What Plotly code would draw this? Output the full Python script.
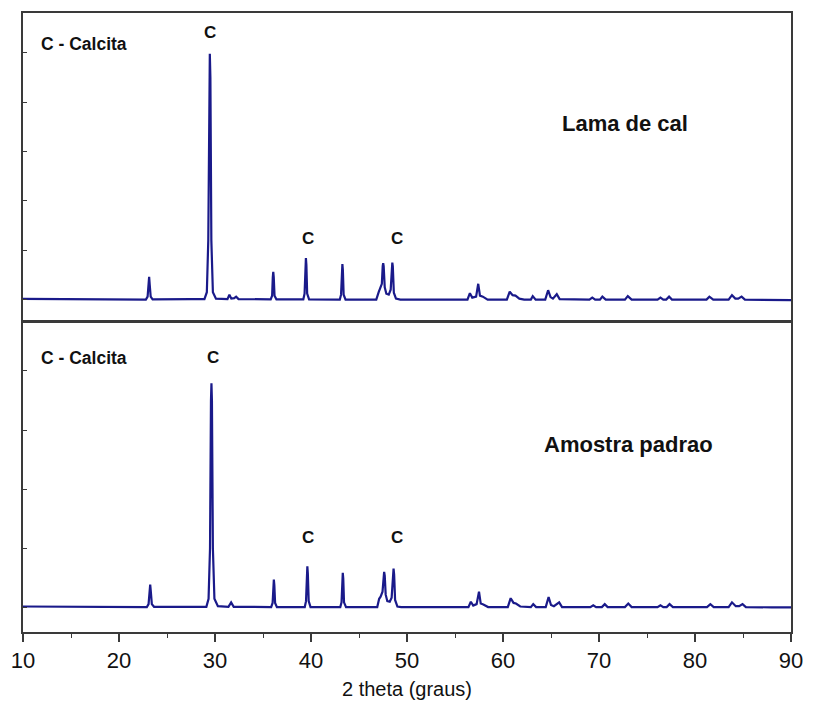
import plotly.graph_objects as go

# ---- Data (2 theta in degrees, intensity in arbitrary units) ----
lama_points = [
    (10.0, 15), (12.0, 15), (15.0, 10), (18.0, 5), (20.0, 0), (22.8, 0),
    (22.98, 60), (23.08, 300), (23.14, 460), (23.2, 300), (23.3, 60), (23.5, 5),
    (26.0, 0), (27.5, 10), (28.9, 10),
    (29.15, 150), (29.3, 1200), (29.4, 4500), (29.46, 4980), (29.52, 4500), (29.62, 1200), (29.78, 150), (30.1, 20),
    (31.3, 10), (31.5, 100), (31.7, 20), (32.0, 30), (32.2, 60), (32.45, 10),
    (35.8, 5), (35.95, 80), (36.02, 450), (36.07, 560), (36.12, 450), (36.2, 80), (36.4, 5),
    (39.2, 5), (39.33, 120), (39.42, 700), (39.47, 840), (39.52, 700), (39.6, 120), (39.8, 5),
    (43.0, 0), (43.13, 100), (43.22, 600), (43.27, 720), (43.32, 600), (43.4, 100), (43.6, 0),
    (46.8, 0), (47.05, 150), (47.2, 220), (47.38, 320), (47.47, 680), (47.52, 740), (47.57, 680), (47.68, 250),
    (47.85, 120), (48.1, 100), (48.3, 200), (48.42, 680), (48.47, 750), (48.52, 680), (48.63, 140), (48.85, 20), (49.3, 0),
    (56.3, 0), (56.55, 130), (56.8, 40), (57.2, 60), (57.42, 320), (57.6, 80), (57.9, 60),
    (58.1, 40), (58.4, 0),
    (60.4, 0), (60.7, 160), (61.0, 90), (61.3, 80), (61.7, 20), (62.2, 0),
    (62.9, 0), (63.1, 70), (63.4, 0),
    (64.4, 0), (64.7, 190), (64.95, 50), (65.2, 20), (65.6, 110), (65.9, 10),
    (69.0, 0), (69.3, 40), (69.6, 0), (70.1, 0), (70.35, 60), (70.7, 0),
    (72.7, 0), (73.0, 70), (73.4, 0),
    (76.1, 0), (76.4, 40), (76.7, 0), (77.0, 0), (77.3, 60), (77.6, 0),
    (81.2, 0), (81.5, 60), (81.9, 0),
    (83.5, 0), (83.85, 90), (84.2, 20), (84.5, 20), (84.85, 60), (85.2, 0),
    (88.0, -5), (90.0, -10),
]

padrao_points = [
    (10.0, 20), (15.0, 15), (20.0, 10), (22.9, 10),
    (23.08, 60), (23.19, 280), (23.25, 390), (23.31, 280), (23.42, 60), (23.65, 15),
    (29.1, 15), (29.33, 150), (29.48, 1000), (29.58, 3500), (29.63, 3790), (29.68, 3500), (29.78, 1000), (29.94, 150), (30.3, 25),
    (31.4, 15), (31.68, 90), (31.95, 15),
    (35.85, 10), (36.0, 80), (36.08, 380), (36.13, 475), (36.18, 380), (36.26, 80), (36.45, 10),
    (39.35, 10), (39.48, 110), (39.57, 580), (39.62, 700), (39.67, 580), (39.76, 110), (39.95, 10),
    (43.05, 10), (43.18, 90), (43.26, 490), (43.31, 590), (43.36, 490), (43.44, 90), (43.65, 10),
    (46.9, 10), (47.1, 150), (47.25, 185), (47.45, 270), (47.56, 540), (47.62, 605), (47.68, 540), (47.78, 220),
    (47.95, 110), (48.2, 100), (48.4, 170), (48.54, 560), (48.6, 660), (48.66, 560), (48.76, 130), (49.0, 20), (49.4, 10),
    (56.4, 10), (56.65, 100), (56.9, 35), (57.25, 60), (57.5, 270), (57.68, 70), (57.95, 55),
    (58.1, 40), (58.45, 10),
    (60.5, 10), (60.8, 160), (61.1, 80), (61.35, 70), (61.8, 20), (62.3, 10),
    (62.9, 10), (63.15, 60), (63.45, 10),
    (64.45, 10), (64.75, 180), (65.0, 45), (65.3, 25), (65.85, 90), (66.15, 10),
    (69.1, 10), (69.4, 40), (69.7, 10), (70.3, 10), (70.6, 60), (70.9, 10),
    (72.7, 10), (73.05, 70), (73.4, 10),
    (76.1, 10), (76.4, 40), (76.7, 10), (77.05, 10), (77.35, 60), (77.7, 10),
    (81.25, 10), (81.6, 60), (81.95, 10),
    (83.5, 10), (83.85, 90), (84.25, 25), (84.6, 25), (84.95, 60), (85.3, 10),
    (88.0, 5), (90.0, 5),
]

x_ticks = [10, 20, 30, 40, 50, 60, 70, 80, 90]
peak_label = "C"
legend_label = "C - Calcita"
sample_top = "Lama de cal"
sample_bottom = "Amostra padrao"
axis_title = "2 theta (graus)"

lama_x = [p[0] for p in lama_points]
lama_y = [p[1] for p in lama_points]
padrao_x = [p[0] for p in padrao_points]
padrao_y = [p[1] for p in padrao_points]

LINE = "#1a1a8a"
FRAME = "#3a3a3a"
FONT = "Liberation Sans, Arial, sans-serif"

fig = go.Figure()
fig.add_trace(go.Scatter(x=lama_x, y=lama_y, mode="lines", xaxis="x2", yaxis="y2",
                         line=dict(color=LINE, width=2.2), showlegend=False, name=sample_top))
fig.add_trace(go.Scatter(x=padrao_x, y=padrao_y, mode="lines", xaxis="x", yaxis="y",
                         line=dict(color=LINE, width=2.2), showlegend=False, name=sample_bottom))

yaxis_common = dict(showticklabels=False, ticks="inside", ticklen=4, tickwidth=1.2, tickcolor=FRAME,
                    tick0=0, dtick=1000, showline=True, mirror=True, linecolor=FRAME, linewidth=1.5,
                    showgrid=False, zeroline=False)

fig.update_layout(
    width=814, height=710,
    margin=dict(l=22, r=16, t=11, b=78),
    paper_bgcolor="white", plot_bgcolor="white",
    font=dict(family=FONT, color="#111111"),
    xaxis=dict(domain=[0, 1], anchor="y", range=[10, 90], tickvals=x_ticks,
               ticks="outside", ticklen=8, tickwidth=1.5, tickcolor=FRAME,
               minor=dict(dtick=5, tick0=10, ticks="outside", ticklen=4, tickwidth=1.2, tickcolor=FRAME),
               showline=True, mirror=True, linecolor=FRAME, linewidth=1.5,
               showgrid=False, zeroline=False, tickfont=dict(size=22, color="#111111"),
               title=dict(text=axis_title, font=dict(size=20, color="#111111"), standoff=10)),
    yaxis=dict(domain=[0, 0.4992], anchor="x", range=[-411, 4810], **yaxis_common),
    xaxis2=dict(domain=[0, 1], anchor="y2", range=[10, 90], showticklabels=False, ticks="",
                showline=True, mirror=True, linecolor=FRAME, linewidth=1.5,
                showgrid=False, zeroline=False),
    yaxis2=dict(domain=[0.504, 1], anchor="x2", range=[-414, 5808], **yaxis_common),
)

ann = []
bold = lambda s: "<b>" + s + "</b>"
# top panel
ann.append(dict(x=11.65, y=5182, xref="x2", yref="y2", text=bold(legend_label), xanchor="left",
                yanchor="middle", showarrow=False, font=dict(size=17.5)))
ann.append(dict(x=29.5, y=5404, xref="x2", yref="y2", text=bold(peak_label), showarrow=False,
                yanchor="middle", font=dict(size=17)))
ann.append(dict(x=39.69, y=1242, xref="x2", yref="y2", text=bold(peak_label), showarrow=False,
                yanchor="middle", font=dict(size=17)))
ann.append(dict(x=48.97, y=1242, xref="x2", yref="y2", text=bold(peak_label), showarrow=False,
                yanchor="middle", font=dict(size=17)))
ann.append(dict(x=72.68, y=3566, xref="x2", yref="y2", text=bold(sample_top), showarrow=False,
                yanchor="middle", font=dict(size=22)))
# bottom panel
ann.append(dict(x=11.65, y=4220, xref="x", yref="y", text=bold(legend_label), xanchor="left",
                yanchor="middle", showarrow=False, font=dict(size=17.5)))
ann.append(dict(x=29.79, y=4220, xref="x", yref="y", text=bold(peak_label), showarrow=False,
                yanchor="middle", font=dict(size=17)))
ann.append(dict(x=39.69, y=1190, xref="x", yref="y", text=bold(peak_label), showarrow=False,
                yanchor="middle", font=dict(size=17)))
ann.append(dict(x=48.97, y=1190, xref="x", yref="y", text=bold(peak_label), showarrow=False,
                yanchor="middle", font=dict(size=17)))
ann.append(dict(x=73.09, y=2756, xref="x", yref="y", text=bold(sample_bottom), showarrow=False,
                yanchor="middle", font=dict(size=22)))
fig.update_layout(annotations=ann)

fig.write_html("out.html")
